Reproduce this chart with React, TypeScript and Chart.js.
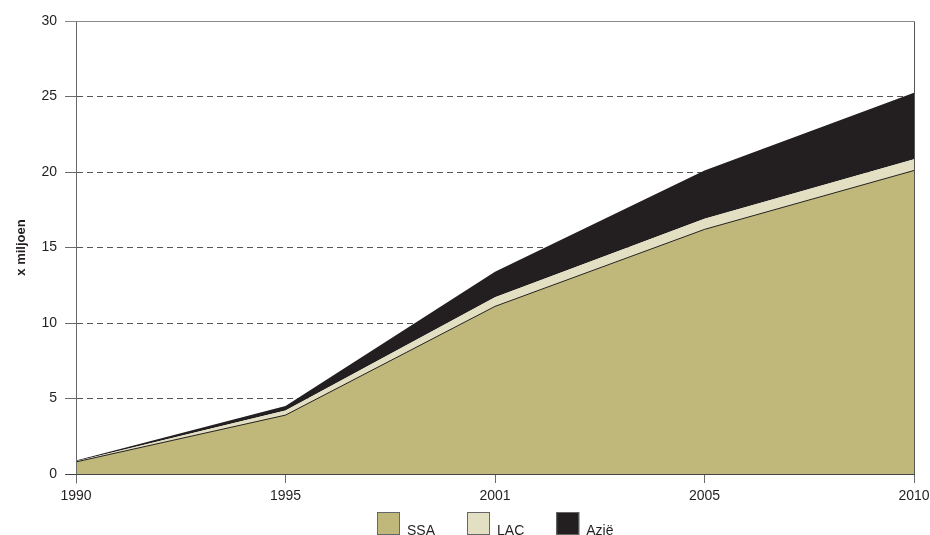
import React, { useEffect, useRef } from 'react';
import { Chart, registerables } from 'chart.js';

Chart.register(...registerables);

const years = ['1990', '1995', '2001', '2005', '2010'];
const ssa = [0.8, 3.9, 11.1, 16.2, 20.1];
const lac = [0.05, 0.3, 0.6, 0.7, 0.75];
const azie = [0.05, 0.3, 1.7, 3.2, 4.4];
const seriesNames = ['SSA', 'LAC', 'Azië'];
const seriesColors = ['#bfb87a', '#e3dfc2', '#231f20'];
const yMin = 0;
const yMax = 30;
const yStep = 5;
const yTitle = 'x miljoen';

const FONT = '"Liberation Sans", Arial, Helvetica, sans-serif';

const framePlugin = {
  id: 'frame',
  afterDatasetsDraw(chart: any) {
    const { ctx, chartArea } = chart;
    const l = Math.round(chartArea.left) + 0.5;
    const r = Math.round(chartArea.right) + 0.5;
    const t = Math.round(chartArea.top) + 0.5;
    const b = Math.round(chartArea.bottom) + 0.5;
    ctx.save();
    ctx.lineWidth = 1;
    ctx.strokeStyle = '#8a8a8a';
    ctx.beginPath();
    ctx.moveTo(l - 11, t);
    ctx.lineTo(r, t);
    ctx.stroke();
    ctx.strokeStyle = '#555555';
    ctx.beginPath();
    ctx.moveTo(r, t);
    ctx.lineTo(r, b);
    ctx.stroke();
    ctx.strokeStyle = '#6a6a6a';
    ctx.beginPath();
    ctx.moveTo(l, t);
    ctx.lineTo(l, b + 9);
    ctx.stroke();
    ctx.strokeStyle = '#444444';
    ctx.beginPath();
    ctx.moveTo(l - 11, b);
    ctx.lineTo(r, b);
    ctx.stroke();
    ctx.restore();
  },
};

const legendPlugin = {
  id: 'customLegend',
  afterDraw(chart: any) {
    const { ctx, chartArea } = chart;
    ctx.save();
    ctx.font = `14px ${FONT}`;
    const box = 23;
    const gap = 7;
    const spacing = 32;
    const widths = seriesNames.map((n) => ctx.measureText(n).width);
    const total =
      widths.reduce((a, w) => a + box + gap + w, 0) + spacing * (seriesNames.length - 1);
    let x = Math.round((chartArea.left + chartArea.right) / 2 - total / 2);
    const top = Math.round(chartArea.bottom) + 38;
    seriesNames.forEach((name, i) => {
      ctx.fillStyle = seriesColors[i];
      ctx.fillRect(x, top, box, box);
      ctx.strokeStyle = '#666666';
      ctx.lineWidth = 1;
      ctx.strokeRect(x + 0.5, top + 0.5, box - 1, box - 1);
      ctx.fillStyle = '#231f20';
      ctx.textBaseline = 'alphabetic';
      ctx.textAlign = 'left';
      ctx.fillText(name, x + box + gap, top + 23);
      x += box + gap + widths[i] + spacing;
    });
    ctx.restore();
  },
};

export default function App() {
  const ref = useRef<HTMLCanvasElement | null>(null);

  useEffect(() => {
    if (!ref.current) return;
    const data = [ssa, lac, azie];
    const chart = new Chart(ref.current, {
      type: 'line',
      data: {
        labels: years,
        datasets: seriesNames.map((name, i) => ({
          label: name,
          data: data[i],
          backgroundColor: seriesColors[i],
          borderColor: i === 0 ? '#231f20' : seriesColors[i],
          borderWidth: i === 0 ? 1 : 0,
          pointRadius: 0,
          tension: 0,
          fill: i === 0 ? 'origin' : '-1',
        })),
      },
      options: {
        animation: false,
        responsive: true,
        maintainAspectRatio: false,
        layout: { padding: { top: 21, right: 0, left: 0, bottom: 0 } },
        plugins: {
          legend: { display: false },
          tooltip: { enabled: false },
        },
        scales: {
          x: {
            type: 'category',
            offset: false,
            grid: {
              drawOnChartArea: false,
              drawTicks: true,
              tickLength: 9,
              tickColor: '#6a6a6a',
              color: '#6a6a6a',
            },
            border: { display: true, color: '#444444' },
            ticks: {
              color: '#231f20',
              padding: 5,
              maxRotation: 0,
              autoSkip: false,
              font: { family: FONT, size: 14 },
            },
            afterFit: (s: any) => {
              s.height = 61;
              s.paddingRight = 16;
              s.paddingLeft = 0;
            },
          },
          y: {
            stacked: true,
            min: yMin,
            max: yMax,
            ticks: {
              stepSize: yStep,
              color: '#231f20',
              padding: 8,
              font: { family: FONT, size: 14 },
            },
            grid: {
              color: '#555555',
              lineWidth: 1,
              drawTicks: true,
              tickLength: 11,
              tickColor: '#6a6a6a',
              tickBorderDash: [],
            },
            border: { display: true, color: '#6a6a6a', dash: [6, 4] },
            title: {
              display: true,
              text: yTitle,
              color: '#231f20',
              font: { family: FONT, size: 13, weight: 'bold' },
              padding: { top: 14, bottom: 0 },
            },
            afterFit: (s: any) => {
              s.width = 76;
            },
          },
        },
      },
      plugins: [framePlugin, legendPlugin],
    });
    return () => chart.destroy();
  }, []);

  return (
    <div style={{ position: 'absolute', left: 0, top: 0, width: 930, height: 535, background: '#fff' }}>
      <canvas ref={ref} />
    </div>
  );
}
